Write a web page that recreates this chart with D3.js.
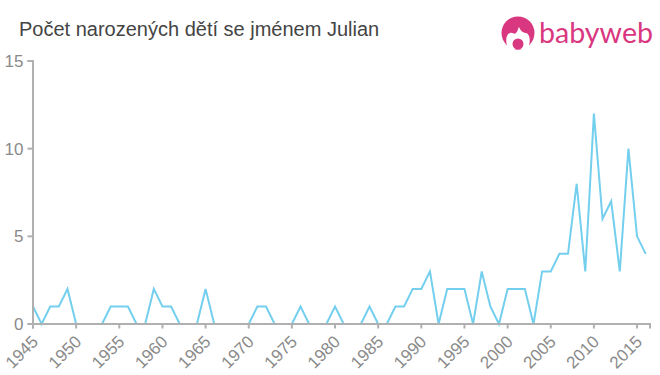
<!DOCTYPE html>
<html>
<head>
<meta charset="utf-8">
<script src="https://cdnjs.cloudflare.com/ajax/libs/d3/7.8.5/d3.min.js"></script>
<style>
    html, body { margin: 0; padding: 0; background: #fff; }
    svg { display: block; }
    text { font-family: "Liberation Sans", Arial, sans-serif; }
</style>
</head>
<body>
<div id="chart"></div>
<script>
const chartTitle = 'Počet narozených dětí se jménem Julian';
const logoText = 'babyweb';
const years = [
    1945, 1946, 1947, 1948, 1949, 1950, 1951, 1952, 1953, 1954, 1955, 1956,
    1957, 1958, 1959, 1960, 1961, 1962, 1963, 1964, 1965, 1966, 1967, 1968,
    1969, 1970, 1971, 1972, 1973, 1974, 1975, 1976, 1977, 1978, 1979, 1980,
    1981, 1982, 1983, 1984, 1985, 1986, 1987, 1988, 1989, 1990, 1991, 1992,
    1993, 1994, 1995, 1996, 1997, 1998, 1999, 2000, 2001, 2002, 2003, 2004,
    2005, 2006, 2007, 2008, 2009, 2010, 2011, 2012, 2013, 2014, 2015, 2016
];
const births = [
    1, 0, 1, 1, 2, 0, 0, 0, 0, 1, 1, 1,
    0, 0, 2, 1, 1, 0, 0, 0, 2, 0, 0, 0,
    0, 0, 1, 1, 0, 0, 0, 1, 0, 0, 0, 1,
    0, 0, 0, 1, 0, 0, 1, 1, 2, 2, 3, 0,
    2, 2, 2, 0, 3, 1, 0, 2, 2, 2, 0, 3,
    3, 4, 4, 8, 3, 12, 6, 7, 3, 10, 5, 4
];
const xTicks = [1945, 1950, 1955, 1960, 1965, 1970, 1975, 1980, 1985, 1990, 1995, 2000, 2005, 2010, 2015];
const yTicks = [0, 5, 10, 15];

const width = 660;
const height = 375;
const margin = { top: 61, right: 10, bottom: 51, left: 33 };
const axisColor = '#b0b0b0';
const labelColor = '#8a8a8a';
const lineColor = '#74cfee';
const logoColor = '#d9377f';

const svg = d3.select('#chart')
    .append('svg')
    .attr('width', width)
    .attr('height', height);

// 8.63px per year, the axis runs a little past the last year
const x = d3.scaleLinear()
    .domain([1945, 2016.5])
    .range([margin.left, width - margin.right]);

const y = d3.scaleLinear()
    .domain([0, 15])
    .range([height - margin.bottom, margin.top]);

svg.append('text')
    .attr('x', 19)
    .attr('y', 36)
    .attr('fill', '#444')
    .style('font-size', '20px')
    .text(chartTitle);

// Line goes first, the axis covers the runs of zeros
const line = d3.line()
    .x((d, i) => x(years[i]))
    .y(d => y(d));

svg.append('path')
    .datum(births)
    .attr('fill', 'none')
    .attr('stroke', lineColor)
    .attr('stroke-width', 2)
    .attr('d', line);

// Axes, minus d3's half pixel so they sit exactly over the line's zero
const xAxis = svg.append('g')
    .attr('transform', `translate(-0.5,${height - margin.bottom - 0.5})`)
    .call(d3.axisBottom(x).tickValues(xTicks).tickFormat(d3.format('d')).tickSize(5));

xAxis.selectAll('text')
    .attr('fill', labelColor)
    .style('font-size', '17px')
    .style('text-anchor', 'end')
    .attr('x', 0)
    .attr('y', 0)
    .attr('dy', '.35em')
    .attr('transform', 'translate(2,15) rotate(-45)');

const yAxis = svg.append('g')
    .attr('transform', `translate(${margin.left - 0.5},-0.5)`)
    .call(d3.axisLeft(y).tickValues(yTicks).tickSize(5).tickPadding(4));

yAxis.selectAll('text')
    .attr('fill', labelColor)
    .attr('y', 0.5)
    .style('font-size', '17px');

svg.selectAll('.domain, .tick line')
    .attr('stroke', axisColor)
    .attr('stroke-width', 2);

// Logo
const logo = svg.append('g').attr('transform', 'translate(518,33)');

logo.append('circle')
    .attr('r', 16.5)
    .attr('fill', logoColor);

logo.append('path')
    .attr('d', 'M-10,16 C-13,8 -12,1 -8,0 C-5,-1 -4,2 -2,0 C0,-2 0,-5 1,-6 C2,-3 5,0 8,0 C12,1 13,8 10,16 Z')
    .attr('fill', '#fff');

logo.append('circle')
    .attr('cy', 11)
    .attr('r', 5.5)
    .attr('fill', logoColor);

svg.append('text')
    .attr('x', 539)
    .attr('y', 43)
    .attr('fill', logoColor)
    .attr('textLength', 114)
    .attr('lengthAdjust', 'spacingAndGlyphs')
    .style('font-family', 'Lato, sans-serif')
    .style('font-size', '29px')
    .text(logoText);
</script>
</body>
</html>
